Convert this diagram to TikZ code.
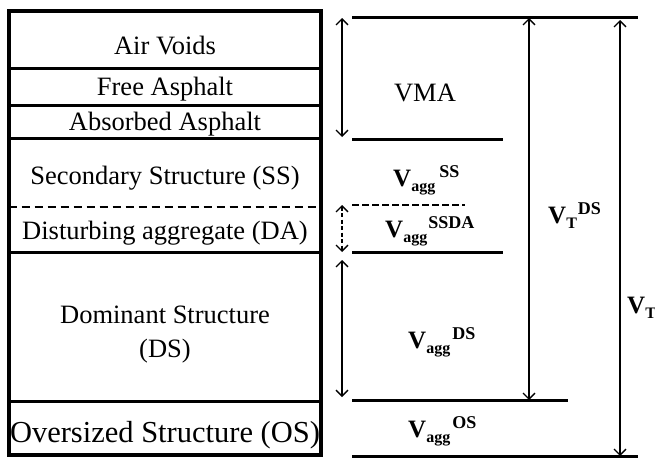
\documentclass[tikz,border=0pt]{standalone}
\usepackage{fontspec}
\setmainfont{Liberation Serif}
\usetikzlibrary{arrows.meta,positioning}
\newcommand\vol[3]{V\raisebox{-5pt}{\fontsize{16}{16}\selectfont #1}\hspace{#3}\raisebox{9pt}{\fontsize{18}{18}\selectfont #2}}

\begin{document}
\begin{tikzpicture}[x=1pt,y=-1pt,
    layer/.style={font=\fontsize{26.5}{34}\selectfont,anchor=base,align=center},
    vlabel/.style={font=\bfseries\fontsize{25}{30}\selectfont,anchor=base west,inner sep=0pt},
    bound/.style={line width=3pt},
    span/.style={line width=1.3pt,{Straight Barb[length=6pt,width=12pt]}-{Straight Barb[length=6pt,width=12pt]}}]
   \useasboundingbox (0,0) rectangle (655,458);
   \draw[line width=4pt] (8.5,10.5) rectangle (321,455);
   \draw[bound] (8.5,68) -- (321,68);
   \draw[bound] (8.5,105) -- (321,105);
   \draw[bound] (8.5,138) -- (321,138);
   \draw[line width=2pt,dash pattern=on 8pt off 5pt] (8.5,207) -- (321,207);
   \draw[bound] (8.5,252) -- (321,252);
   \draw[bound] (8.5,401) -- (321,401);
   \node[layer] (av)   at (165,54)  {Air Voids};
   \node[layer] (fa)   at (165,95)  {Free Asphalt};
   \node[layer] (aa)   at (165,130) {Absorbed Asphalt};
   \node[layer] (ss-l) at (165,184) {Secondary Structure (SS)};
   \node[layer] (da-l) at (165,239) {Disturbing aggregate (DA)};
   \node[layer,anchor=center] (ds-l) at (165,335) {Dominant Structure\\(DS)};
   \node[layer,font=\fontsize{30.5}{34}\selectfont] (os-l) at (165,442) {Oversized Structure (OS)};
   \coordinate (top) at (352,17);  \coordinate (top-e) at (638,17);
   \coordinate (vma) at (352,139); \coordinate (vma-e) at (503,139);
   \coordinate (da)  at (352,205); \coordinate (da-e)  at (465,205);
   \coordinate (ss)  at (352,252); \coordinate (ss-e)  at (503,252);
   \coordinate (ds)  at (352,400); \coordinate (ds-e)  at (568,400);
   \coordinate (os)  at (352,456); \coordinate (os-e)  at (638,456);
   \coordinate (c1) at (342,0);
   \coordinate (c2) at (529,0);
   \coordinate (c3) at (620,0);
   \draw[bound] (top) -- (top-e);
   \draw[bound] (vma) -- (vma-e);
   \draw[line width=1.5pt,dash pattern=on 7pt off 3pt] (da) -- (da-e);
   \draw[bound] (ss) -- (ss-e);
   \draw[bound] (ds) -- (ds-e);
   \draw[bound] (os) -- (os-e);
   \draw[span,shorten <=1pt,shorten >=2pt] (top -| c1) -- (vma -| c1);
   \draw[span,dash pattern=on 4pt off 2.5pt] (da -| c1) -- (ss -| c1);
   \draw[span,shorten <=8pt,shorten >=3pt] (ss -| c1) -- (ds -| c1);
   \draw[span,shorten <=1pt] (top -| c2) -- (ds -| c2);
   \draw[span,shorten <=3pt] (top -| c3) -- (os -| c3);
   \node[layer] (vma-l) at (425,101) {VMA};
   \node[vlabel] (v-ss)   at (393,186) {\vol{agg}{SS}{4pt}};
   \node[vlabel] (v-ssda) at (385,237) {\vol{agg}{SSDA}{1pt}};
   \node[vlabel] (v-ds)   at (408,348) {\vol{agg}{DS}{2pt}};
   \node[vlabel] (v-os)   at (408,437) {\vol{agg}{OS}{2pt}};
   \node[vlabel] (v-tds)  at (548,223) {\vol{T}{DS}{1pt}};
   \node[vlabel] (v-t)    at (627,313) {\vol{T}{}{0pt}};
\end{tikzpicture}
\end{document}
